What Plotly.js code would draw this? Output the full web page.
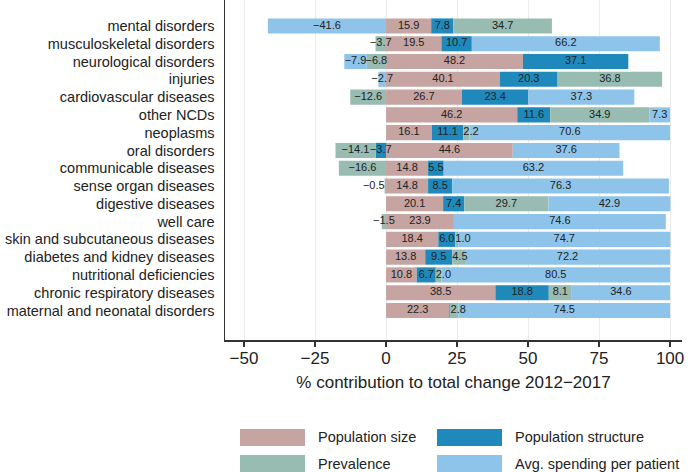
<!DOCTYPE html>
<html>
<head>
<meta charset="utf-8">
<script src="https://cdn.plot.ly/plotly-3.0.1.min.js"></script>
<style>
  html, body { margin: 0; padding: 0; background: #fff; }
  #chart { width: 690px; height: 472px; }
</style>
</head>
<body>
<div id="chart"></div>
<script>
// ---- data (top to bottom) ----
const categories = [
  "mental disorders", "musculoskeletal disorders", "neurological disorders",
  "injuries", "cardiovascular diseases", "other NCDs", "neoplasms",
  "oral disorders", "communicable diseases", "sense organ diseases",
  "digestive diseases", "well care", "skin and subcutaneous diseases",
  "diabetes and kidney diseases", "nutritional deficiencies",
  "chronic respiratory diseases", "maternal and neonatal disorders"
];
const populationSize      = [15.9, 19.5, 48.2, 40.1, 26.7, 46.2, 16.1, 44.6, 14.8, 14.8, 20.1, 23.9, 18.4, 13.8, 10.8, 38.5, 22.3];
const populationStructure = [7.8, 10.7, 37.1, 20.3, 23.4, 11.6, 11.1, -3.7, 5.5, 8.5, 7.4, 0, 6.0, 9.5, 6.7, 18.8, 0.4];
const prevalence          = [34.7, -3.7, -6.8, 36.8, -12.6, 34.9, 2.2, -14.1, -16.6, -0.5, 29.7, -1.5, 1.0, 4.5, 2.0, 8.1, 2.8];
const avgSpending         = [-41.6, 66.2, -7.9, -2.7, 37.3, 7.3, 70.6, 37.6, 63.2, 76.3, 42.9, 74.6, 74.7, 72.2, 80.5, 34.6, 74.5];

const seriesNames  = ["Population size", "Population structure", "Prevalence", "Avg. spending per patient"];
const seriesValues = [populationSize, populationStructure, prevalence, avgSpending];
const xTickValues  = [-50, -25, 0, 25, 50, 75, 100];
const xTitle = "% contribution to total change 2012\u22122017";

// ---- styles ----
const colors = ["#c6a4a1", "#2089bb", "#99bcb2", "#8ec4e9"];
const FONT = "Liberation Sans, Arial, Helvetica, sans-serif";
const fmt = v => (Math.abs(v) < 0.5 ? "" : v.toFixed(1).replace("-", "\u2212"));

const barTraces = seriesValues.map((vals, i) => ({
  type: "bar",
  orientation: "h",
  name: seriesNames[i],
  y: categories,
  x: vals,
  marker: { color: colors[i], line: { width: 0 } },
  showlegend: false,
  hoverinfo: "x+y+name"
}));

// value labels: one text layer on top of all bars, placed at the stacked segment
// positions computed from the series values (relative stacking)
const lblX = [], lblY = [], lblT = [], lblP = [];
categories.forEach((cat, r) => {
  let pos = 0, neg = 0;
  seriesValues.forEach(vals => {
    const v = vals[r];
    let start, end;
    if (v >= 0) { start = pos; end = pos + v; pos = end; }
    else { start = neg; end = neg + v; neg = end; }
    const t = fmt(v);
    if (!t) return;
    let x = (start + end) / 2, p = "middle center";
    if (v > 0 && v < 5 && start > 0) { x = start; p = "middle right"; }
    else if (v < 0 && v > -1) { x = end; p = "middle left"; }
    lblX.push(x); lblY.push(cat); lblT.push(t); lblP.push(p);
  });
});
const labelTrace = {
  type: "scatter", mode: "text",
  x: lblX, y: lblY, text: lblT, textposition: lblP,
  textfont: { family: FONT, size: 11, color: "#222" },
  showlegend: false, hoverinfo: "skip", cliponaxis: false
};

// custom wide-swatch legend (2 columns x 2 rows)
const shapes = [];
const annotations = [];
const plotW = 690 - 225 - 8, plotH = 340;
const legendCols = [240, 437];
const legendRows = [429, 455];
seriesNames.forEach((name, k) => {
  const col = k % 2, row = Math.floor(k / 2);
  const x0 = legendCols[col], y0 = legendRows[row];
  shapes.push({
    type: "rect", xref: "paper", yref: "paper",
    x0: (x0 - 225) / plotW, x1: (x0 + 65 - 225) / plotW,
    y0: (plotH - y0) / plotH, y1: (plotH - (y0 + 17)) / plotH,
    fillcolor: colors[k], line: { width: 0 }
  });
  annotations.push({
    xref: "paper", yref: "paper",
    x: (x0 + 76 - 225) / plotW, y: (plotH - (y0 + 8.5)) / plotH,
    xanchor: "left", yanchor: "middle", showarrow: false,
    text: name,
    font: { family: FONT, size: 14.5, color: "#222" }
  });
});

const layout = {
  width: 690, height: 472,
  margin: { l: 225, r: 8, t: 0, b: 132, pad: 0 },
  paper_bgcolor: "#fff", plot_bgcolor: "#fff",
  barmode: "relative",
  bargap: 0.15,
  font: { family: FONT, color: "#222" },
  xaxis: {
    range: [-56.7, 104.2],
    tickvals: xTickValues,
    ticktext: xTickValues.map(v => String(v).replace("-", "\u2212")),
    tickfont: { family: FONT, size: 17, color: "#222" },
    ticks: "outside", ticklen: 5, tickwidth: 1.2, tickcolor: "#333",
    ticklabelstandoff: -3,
    showgrid: true, gridcolor: "#ececec", gridwidth: 1,
    zeroline: false,
    showline: true, linecolor: "#333", linewidth: 1.5,
    title: { text: xTitle, font: { family: FONT, size: 17, color: "#222" }, standoff: 9 },
    fixedrange: true
  },
  yaxis: {
    type: "category",
    categoryorder: "array",
    categoryarray: categories,
    range: [17.66, -1.46],
    tickfont: { family: FONT, size: 14.5, color: "#222" },
    ticks: "",
    ticklabelstandoff: 6,
    showgrid: false,
    zeroline: false,
    showline: true, linecolor: "#333", linewidth: 1.5,
    fixedrange: true
  },
  shapes: shapes,
  annotations: annotations,
  showlegend: false
};

Plotly.newPlot("chart", barTraces.concat([labelTrace]), layout, { displayModeBar: false, staticPlot: true });
</script>
</body>
</html>
